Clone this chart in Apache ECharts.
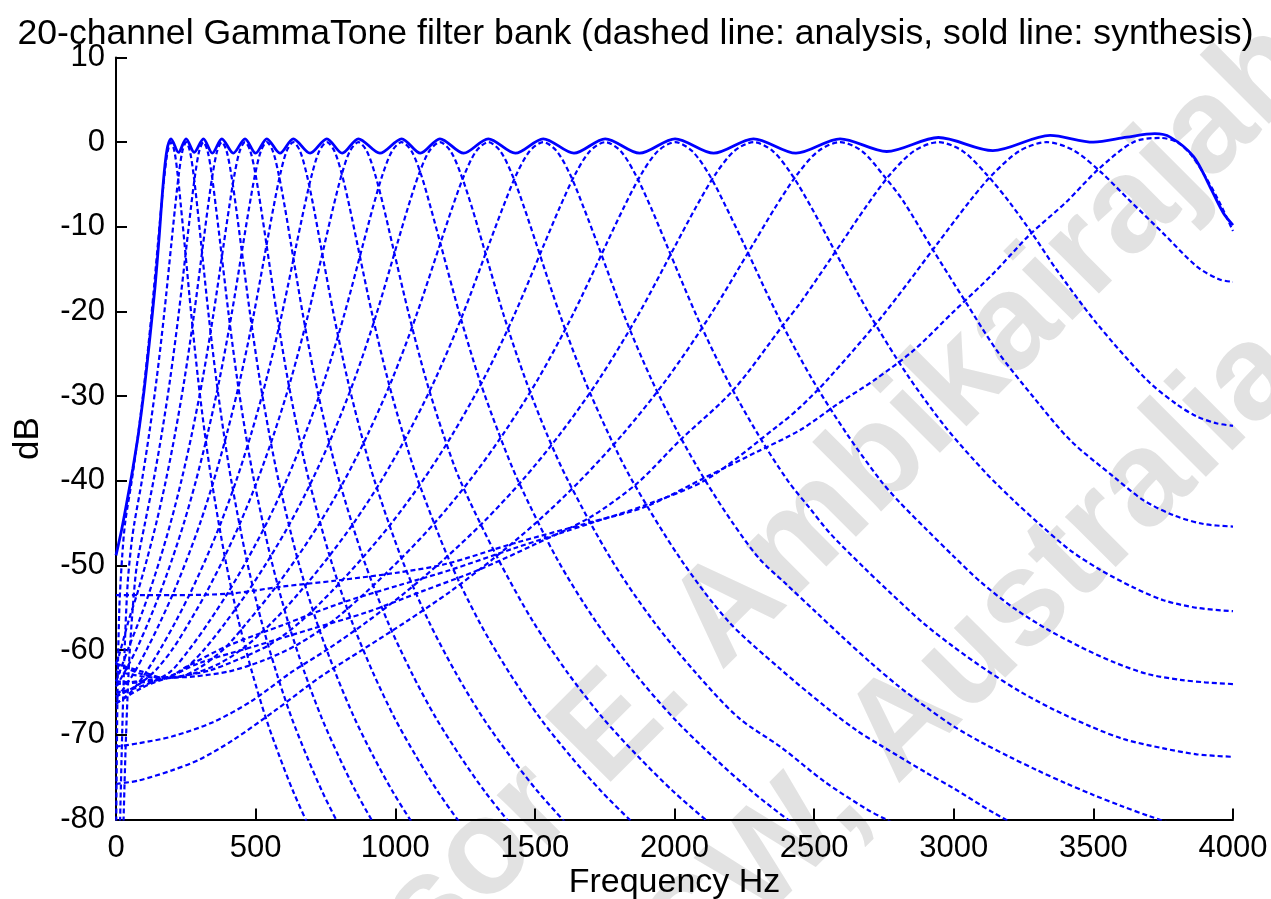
<!DOCTYPE html>
<html><head><meta charset="utf-8">
<script src="https://cdn.jsdelivr.net/npm/echarts@6/dist/echarts.min.js"></script>
<style>html,body{margin:0;padding:0;background:#fff}#c{width:1271px;height:899px}</style>
</head><body><div id="c"></div>
<script>
const titleText = '20-channel GammaTone filter bank (dashed line: analysis, sold line: synthesis)';
const xTickValues = [0, 500, 1000, 1500, 2000, 2500, 3000, 3500, 4000];
const yTickValues = [-80, -70, -60, -50, -40, -30, -20, -10, 0, 10];
const watermarkLines = ['Professor E. Ambikairajah', 'UNSW, Australia'];

const ch01 = [[0,-84],[5,-66],[12,-55],[22,-49],[32.9,-44.9],[56.3,-40],[79.8,-34.4],[103.2,-28],[126.7,-20.5],[150.1,-12],[161.8,-7.75],[173.6,-3.88],[185.3,-1.05],[197,0],[209,-1.05],[221,-3.88],[233,-7.75],[245.5,-12],[270,-20.5],[294,-28],[318,-34.4],[342.5,-40],[391,-49.2],[439.5,-56.6],[488,-62.7],[536.5,-68],[585,-72.5],[633.5,-76.6],[682,-80.2],[730.5,-83.5]];
const ch02 = [[12,-84],[22,-70],[32,-59],[42,-52],[55,-47.5],[66.2,-44.9],[92.6,-40],[119,-34.4],[145.4,-28],[171.8,-20.5],[198.2,-12],[211.4,-7.75],[224.6,-3.88],[237.8,-1.05],[251,0],[264.5,-1.05],[278,-3.88],[291.5,-7.75],[305,-12],[332,-20.5],[359,-28],[386,-34.4],[413,-40],[467,-49.2],[521,-56.6],[575,-62.7],[629,-68],[683,-72.5],[737,-76.6],[791,-80.2],[845,-83.5]];
const ch03 = [[24,-84],[34,-72],[46,-62],[60,-55],[74.6,-50],[104.4,-44.9],[134.2,-40],[164,-34.4],[193.8,-28],[223.6,-20.5],[253.4,-12],[268.3,-7.75],[283.2,-3.88],[298.1,-1.05],[313,0],[328,-1.05],[343,-3.88],[358,-7.75],[373.5,-12],[404,-20.5],[434,-28],[464,-34.4],[494.5,-40],[555,-49.2],[615.5,-56.6],[676,-62.7],[736.5,-68],[797,-72.5],[857.5,-76.6],[918,-80.2],[978.5,-83.5]];
const ch04 = [[0,-61.6],[11,-60.6],[44.5,-56.6],[78,-53.1],[111.4,-49.2],[144.9,-44.9],[178.3,-40],[211.8,-34.4],[245.2,-28],[278.7,-20.5],[312.1,-12],[328.8,-7.75],[345.6,-3.88],[362.3,-1.05],[379,0],[396,-1.05],[413,-3.88],[430,-7.75],[447,-12],[481,-20.5],[514.6,-28],[548.5,-34.4],[582.4,-40],[650,-49.2],[718,-56.6],[786,-62.7],[853.6,-68],[921,-72.5],[989,-76.6],[1057,-80.2],[1125,-83.5]];
const ch05 = [[0,-63.7],[6,-63.2],[44,-59.8],[82,-56.6],[120,-53.1],[158,-49.2],[196,-44.9],[234,-40],[272,-34.4],[310,-28],[348,-20.5],[386,-12],[405,-7.75],[424,-3.88],[443,-1.05],[462,0],[481,-1.05],[500,-3.88],[519,-7.75],[538.5,-12],[577,-20.5],[615,-28],[653,-34.4],[691.5,-40],[768,-49.2],[844.5,-56.6],[921,-62.7],[997.5,-68],[1074,-72.5],[1150.5,-76.6],[1227,-80.2],[1303.5,-83.5]];
const ch06 = [[0,-64.3],[32.4,-62.5],[74.7,-59.8],[117,-56.6],[159.3,-53.1],[201.6,-49.2],[243.9,-44.9],[286.2,-40],[328.5,-34.4],[370.8,-28],[413.1,-20.5],[455.4,-12],[476.6,-7.75],[497.7,-3.88],[518.9,-1.05],[540,0],[561.6,-1.05],[583,-3.88],[605,-7.75],[626.5,-12],[670,-20.5],[713,-28],[756,-34.4],[799.5,-40],[886,-49.2],[972.5,-56.6],[1059,-62.7],[1145.5,-68],[1232,-72.5],[1318.5,-76.6],[1405,-80.2],[1491.5,-83.5]];
const ch07 = [[0,-65.5],[16.9,-65],[64.4,-62.7],[112,-59.8],[159.5,-56.6],[207.1,-53.1],[254.6,-49.2],[302.2,-44.9],[349.7,-40],[397.3,-34.4],[444.8,-28],[492.4,-20.5],[539.9,-12],[563.7,-7.75],[587.5,-3.88],[611.2,-1.05],[635,0],[659,-1.05],[683.5,-3.88],[708,-7.75],[732,-12],[780.5,-20.5],[829,-28],[877.5,-34.4],[926,-40],[1023,-49.2],[1120,-56.6],[1217,-62.7],[1314,-68],[1411,-72.5],[1508,-76.6],[1605,-80.2],[1702,-83.5]];
const ch08 = [[0,-66.3],[51.7,-65],[105.8,-62.7],[159.9,-59.8],[214,-56.6],[268.1,-53.1],[322.2,-49.2],[376.3,-44.9],[430.4,-40],[484.5,-34.4],[538.6,-28],[592.7,-20.5],[646.8,-12],[673.9,-7.75],[701,-3.88],[728,-1.05],[755,0],[782,-1.05],[809.5,-3.88],[837,-7.75],[864,-12],[918.5,-20.5],[973,-28],[1027.5,-34.4],[1082,-40],[1191,-49.2],[1300,-56.6],[1409,-62.7],[1518,-68],[1627,-72.5],[1736,-76.6],[1845,-80.2],[1954,-83.5]];
const ch09 = [[0,-65.5],[83.5,-64],[143.8,-62.3],[204.2,-59.8],[264.5,-56.6],[324.9,-53.1],[385.2,-49.2],[445.6,-44.9],[505.9,-40],[566.3,-34.4],[626.6,-28],[687,-20.5],[747.3,-12],[777.5,-7.75],[807.7,-3.88],[837.8,-1.05],[868,0],[898,-1.05],[928.5,-3.88],[959,-7.75],[989,-12],[1050,-20.5],[1110,-28],[1171,-34.4],[1233,-40],[1368,-49.2],[1493,-56.6],[1618,-62.7],[1743,-68],[1868,-72.5],[1993,-76.6],[2118,-80.2],[2243,-83.5]];
const ch10 = [[0,-65],[58.4,-64.6],[127.3,-63.8],[196.2,-62.5],[265,-59.8],[334,-56.6],[403,-53.1],[471.8,-49.2],[541,-44.9],[609.6,-40],[678.5,-34.4],[747.4,-28],[816.3,-20.5],[885.2,-12],[919.7,-7.75],[954.1,-3.88],[988.6,-1.05],[1023,0],[1058,-1.05],[1093,-3.88],[1127,-7.75],[1162,-12],[1232,-20.5],[1301,-28],[1371,-34.4],[1440,-40],[1579,-49.2],[1718,-56.6],[1857,-62.7],[1996,-68],[2135,-72.5],[2274,-76.6],[2413,-80.2],[2552,-83.5]];
const ch11 = [[0,-63.7],[89.7,-63.8],[166,-63.4],[242.6,-62.3],[319,-59.8],[395.5,-56.6],[472,-53.1],[548.4,-49.2],[625,-44.9],[701.3,-40],[777.8,-34.4],[854.2,-28],[930.7,-20.5],[1007.1,-12],[1045.3,-7.75],[1083.6,-3.88],[1121.8,-1.05],[1160,0],[1198,-1.05],[1236,-3.88],[1275,-7.75],[1313,-12],[1389,-20.5],[1466,-28],[1542,-34.4],[1619,-40],[1772,-49.2],[1925,-56.6],[2077,-62.7],[2230,-68],[2383,-71.5],[2536,-75.5],[2689,-78.8],[2758,-80],[2850,-81.5]];
const ch12 = [[0,-62.5],[130,-63.2],[216,-63.2],[302,-62],[388,-59.8],[473,-56.6],[559,-53.1],[645,-49.2],[731,-44.9],[817,-40],[903,-34.4],[989,-28],[1075,-20.5],[1161,-12],[1204,-7.75],[1247,-3.88],[1290,-1.05],[1333,0],[1376,-1.05],[1419,-3.88],[1462,-7.75],[1505,-12],[1591,-20.5],[1677,-28],[1763,-34.4],[1849,-40],[2021,-49.2],[2193,-56.6],[2378,-62.2],[2545,-66.8],[2653,-69.5],[2736,-71.2],[2903,-74.5],[2999,-76.3],[3142,-79.2],[3300,-82]];
const ch13 = [[0,-61.6],[90,-62.8],[175,-63.3],[272,-62.8],[369,-61.6],[466,-59.5],[562.5,-56.6],[659,-53.1],[756,-49.2],[853,-44.9],[949.5,-40],[1046,-34.4],[1143,-28],[1240,-20.5],[1336.5,-12],[1385,-7.75],[1433,-3.88],[1481.6,-1.05],[1530,0],[1578,-1.05],[1627,-3.88],[1675,-7.75],[1724,-12],[1820,-20.5],[1917,-28],[2014,-34.4],[2111,-40],[2207,-44.9],[2304,-49.2],[2400,-52.2],[2500,-55.3],[2600,-58.4],[2700,-61.4],[2800,-64.2],[2900,-66.7],[3000,-69],[3100,-70.9],[3200,-72.6],[3300,-74.2],[3400,-75.7],[3500,-77.1],[3600,-78.4],[3700,-79.6],[3800,-80.7],[3900,-81.6],[4000,-82.3]];
const ch14 = [[0,-64],[120,-63.5],[226,-63.1],[335,-62.4],[444,-61],[553,-59.3],[662,-56.6],[771,-53.1],[880,-49.2],[989,-44.9],[1098,-40],[1207,-34.4],[1316,-28],[1425,-20.5],[1534,-12],[1588.5,-7.75],[1643,-3.88],[1697.5,-1.05],[1752,0],[1807,-1.05],[1861,-3.88],[1916,-7.75],[1970,-12],[2079,-20.5],[2188,-28],[2297,-34.4],[2406,-40],[2486,-43.3],[2557,-46.2],[2677,-50.2],[2772,-53.2],[2891,-56.8],[2999,-59.6],[3119,-62.4],[3238,-64.9],[3357,-67],[3489,-69],[3608,-70.5],[3751,-71.6],[3870,-72.3],[4000,-72.6]];
const ch15 = [[0,-66.3],[90,-64.5],[175,-63.4],[283.5,-63.1],[406,-62.5],[529,-61.2],[652,-59.3],[774.5,-56.6],[897,-53.1],[1020,-49.2],[1143,-44.9],[1265.5,-40],[1388,-34.4],[1511,-28],[1633.8,-20.5],[1756.5,-12],[1817.9,-7.75],[1879.3,-3.88],[1940.6,-1.05],[2002,0],[2063,-1.05],[2125,-3.88],[2186,-7.75],[2248,-12],[2370,-20.5],[2493,-28],[2616,-34.4],[2739,-40],[2808,-42.6],[2904,-45.8],[2999,-48.9],[3095,-51.9],[3214,-55],[3333,-57.5],[3453,-59.6],[3572,-61.4],[3692,-62.8],[3811,-63.5],[3900,-63.8],[4000,-64]];
const ch16 = [[0,-71.4],[80,-71],[200,-70.2],[347.5,-68.5],[486,-66],[624,-62.7],[762,-59.8],[900.5,-56.6],[1039,-53.1],[1177,-49.2],[1315,-44.9],[1453.5,-40],[1591.8,-34.4],[1730,-28],[1868.3,-20.5],[2006.5,-12],[2075.6,-7.75],[2144.8,-3.88],[2213.9,-1.05],[2283,0],[2352,-1.05],[2421,-3.88],[2490,-7.7],[2560,-12],[2698,-20.3],[2836,-27.6],[2974,-33.8],[3113,-39],[3214,-42.3],[3310,-45.2],[3417,-48.2],[3524,-50.5],[3644,-52.6],[3751,-54.1],[3871,-55],[4000,-55.4]];
const ch17 = [[0,-75.8],[80,-75.4],[200,-74.2],[300,-72.9],[420,-70.6],[575,-67],[730,-63.2],[885,-59.9],[1040.5,-56.6],[1196,-53.1],[1351,-49.2],[1506,-44.9],[1661.5,-40],[1817,-34.4],[1972,-28],[2127,-20.5],[2282.5,-12],[2360,-7.75],[2438,-3.88],[2515,-1.05],[2593,0],[2671,-1.05],[2748,-3.9],[2820,-7],[2927,-12.8],[3047,-19.1],[3154,-24.6],[3285,-30.1],[3417,-35.2],[3572,-39.5],[3680,-42.3],[3790,-44.1],[3895,-45.1],[4000,-45.4]];
const ch18 = [[0,-64],[80,-63.8],[175,-63.3],[300,-61.5],[500,-59.5],[700,-57.5],[900,-55.5],[1100,-53],[1300,-50.5],[1500,-47.5],[1698,-44.3],[1866,-40.3],[2020,-35.2],[2210,-29.3],[2389,-21.6],[2450,-19],[2595.7,-12],[2683,-7.75],[2770.4,-3.88],[2857.7,-1.05],[2945,0],[3032,-1.05],[3120,-3.9],[3202,-7.2],[3285,-11],[3369,-15.1],[3512,-21.4],[3692,-28.1],[3800,-31],[3871,-32.4],[3940,-33.2],[4000,-33.5]];
const ch19 = [[0,-61.6],[90,-62.5],[175,-63.3],[250,-62],[400,-59.5],[600,-57],[800,-54.5],[1017,-52.3],[1200,-50.5],[1423,-48],[1700,-45],[1901,-42.8],[2116,-39.8],[2378,-33.3],[2450,-31.3],[2549,-28],[2745,-20.5],[2941,-12],[3059,-6.9],[3137,-3.88],[3235,-1.05],[3333,0],[3431,-1],[3529,-3.6],[3627,-6.8],[3751,-10.8],[3871,-14.7],[3950,-16.2],[4000,-16.5]];
const ch20 = [[0,-53.5],[200,-53.5],[413,-53.3],[592,-52.5],[783,-51.8],[1017,-50.8],[1184,-49.8],[1423,-47.4],[1710,-44.8],[1901,-43],[2116,-39.5],[2300,-36.5],[2450,-34],[2581,-31],[2720,-28],[2856,-24.6],[3000,-20],[3142,-15.5],[3270,-11],[3405,-7],[3518,-3.2],[3643,0],[3739,0.5],[3800,0],[3850,-1.5],[3900,-4],[3950,-7],[4000,-10.5]];
const synthesis = [[0,-48.8],[20,-45.8],[40,-42.3],[60,-38.6],[80,-34.5],[100,-29.5],[120,-23.5],[140,-17],[155,-11],[165,-6.5],[175,-2.8],[185,-0.5],[197,0.4],[224,-1.2],[251,0.4],[280,-1.2],[313,0.4],[345,-1.3],[379,0.4],[420,-1.3],[462,0.4],[500,-1.3],[540,0.4],[587,-1.3],[635,0.4],[695,-1.3],[755,0.4],[810,-1.3],[868,0.4],[945,-1.3],[1023,0.4],[1090,-1.3],[1160,0.4],[1245,-1.3],[1333,0.4],[1430,-1.3],[1530,0.4],[1640,-1.3],[1752,0.4],[1875,-1.3],[2002,0.4],[2140,-1.3],[2283,0.4],[2435,-1.3],[2593,0.4],[2760,-1.1],[2945,0.55],[3140,-1.0],[3345,0.8],[3500,0],[3620,0.6],[3720,1.0],[3775,0.6],[3859,-1.7],[3918,-5.3],[3966,-8.4],[4000,-9.8]];

const analysis = [ch01,ch02,ch03,ch04,ch05,ch06,ch07,ch08,ch09,ch10,ch11,ch12,ch13,ch14,ch15,ch16,ch17,ch18,ch19,ch20];

const chart = echarts.init(document.getElementById('c'), null, {renderer: 'canvas'});
const FONT = 'Liberation Sans, Arial, sans-serif';
const series = analysis.map(d => ({
  type: 'line', data: d, showSymbol: false, smooth: 0.3,
  lineStyle: {color: '#0000ff', width: 2.2, type: [5, 3]}, z: 2, silent: true
}));
series.push({type: 'line', data: synthesis, showSymbol: false, smooth: 0.3,
  lineStyle: {color: '#0000ff', width: 2.8}, z: 3, silent: true});

chart.setOption({
  animation: false,
  backgroundColor: '#fff',
  title: {text: titleText, left: 'center', top: 11,
    textStyle: {fontFamily: FONT, fontSize: 35.6, fontWeight: 'normal', color: '#000'}},
  graphic: [
    {type: 'text', x: 700, y: 640, rotation: Math.PI / 4, z: -10, silent: true,
      style: {text: watermarkLines[0], font: 'bold 135px Liberation Sans, Arial', fill: '#e2e2e2', textAlign: 'center', textVerticalAlign: 'middle'}},
    {type: 'text', x: 905, y: 725, rotation: Math.PI / 4, z: -10, silent: true,
      style: {text: watermarkLines[1], font: 'bold 135px Liberation Sans, Arial', fill: '#e2e2e2', textAlign: 'center', textVerticalAlign: 'middle'}}
  ],
  grid: {left: 116, right: 38, top: 57.5, bottom: 79.5, containLabel: false, outerBoundsMode: 'none'},
  xAxis: {type: 'value', min: 0, max: 4000, interval: 500,
    name: 'Frequency Hz', nameLocation: 'middle', nameGap: 46, nameMoveOverlap: false,
    nameTextStyle: {fontFamily: FONT, fontSize: 34, color: '#000'},
    axisLine: {onZero: false, lineStyle: {color: '#000', width: 2}},
    axisTick: {inside: true, length: 11, lineStyle: {color: '#000', width: 2}},
    axisLabel: {fontFamily: FONT, fontSize: 31, color: '#000', margin: 13,
      formatter: v => xTickValues.includes(v) ? String(v) : ''},
    splitLine: {show: false}},
  yAxis: {type: 'value', min: -80, max: 10, interval: 10,
    name: 'dB', nameLocation: 'middle', nameGap: 70, nameRotate: 90, nameMoveOverlap: false,
    nameTextStyle: {fontFamily: FONT, fontSize: 35, color: '#000'},
    axisLine: {show: true, onZero: false, lineStyle: {color: '#000', width: 2}},
    axisTick: {show: true, inside: true, length: 11, lineStyle: {color: '#000', width: 2}},
    axisLabel: {fontFamily: FONT, fontSize: 31, color: '#000', margin: 11,
      formatter: v => yTickValues.includes(v) ? String(v) : ''},
    splitLine: {show: false}},
  series: series
});
</script></body></html>
